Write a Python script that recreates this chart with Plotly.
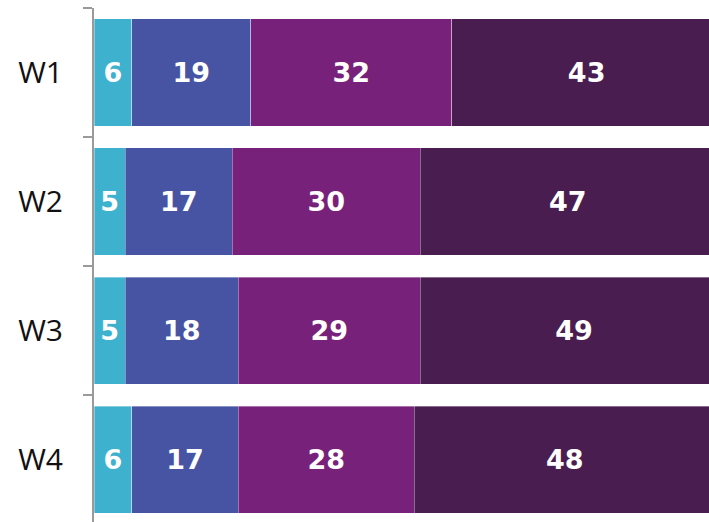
import plotly.graph_objects as go

categories = ["W1", "W2", "W3", "W4"]
series_names = ["A", "B", "C", "D"]
s1 = [6, 5, 5, 6]
s2 = [19, 17, 18, 17]
s3 = [32, 30, 29, 28]
s4 = [43, 47, 49, 48]
colors = ["#3EB1CE", "#4754A3", "#78217B", "#4A1D50"]

fig = go.Figure()
for name, vals, col in zip(series_names, [s1, s2, s3, s4], colors):
    fig.add_trace(go.Bar(
        y=categories, x=vals, name=name, orientation="h",
        marker=dict(color=col, line=dict(color="rgba(255,255,255,0.6)", width=0.6)),
        text=[str(v) for v in vals], textposition="inside", insidetextanchor="middle",
        textangle=0,
        textfont=dict(family="DejaVu Sans", size=27, color="white", weight="bold"),
        cliponaxis=True,
    ))

fig.update_layout(
    barmode="stack", bargap=0.17,
    width=709, height=522,
    margin=dict(l=94, r=0, t=8, b=0),
    plot_bgcolor="white", paper_bgcolor="white",
    showlegend=False,
    uniformtext=dict(mode=False),
)
fig.update_xaxes(range=[0, 98], visible=False, showgrid=False, zeroline=False)
fig.update_yaxes(
    autorange=False, range=[3.484, -0.5],
    showline=True, linecolor="#9A9A9A", linewidth=2,
    ticks="outside", tickson="boundaries", ticklen=9, tickcolor="#9A9A9A", tickwidth=2,
    tickfont=dict(family="Open Sans", size=30, color="#111111"),
    ticklabelstandoff=23,
    showgrid=False, zeroline=False,
)

fig.write_html("out.html", config={"displayModeBar": False},
               post_script="document.body.style.margin='0px';")
